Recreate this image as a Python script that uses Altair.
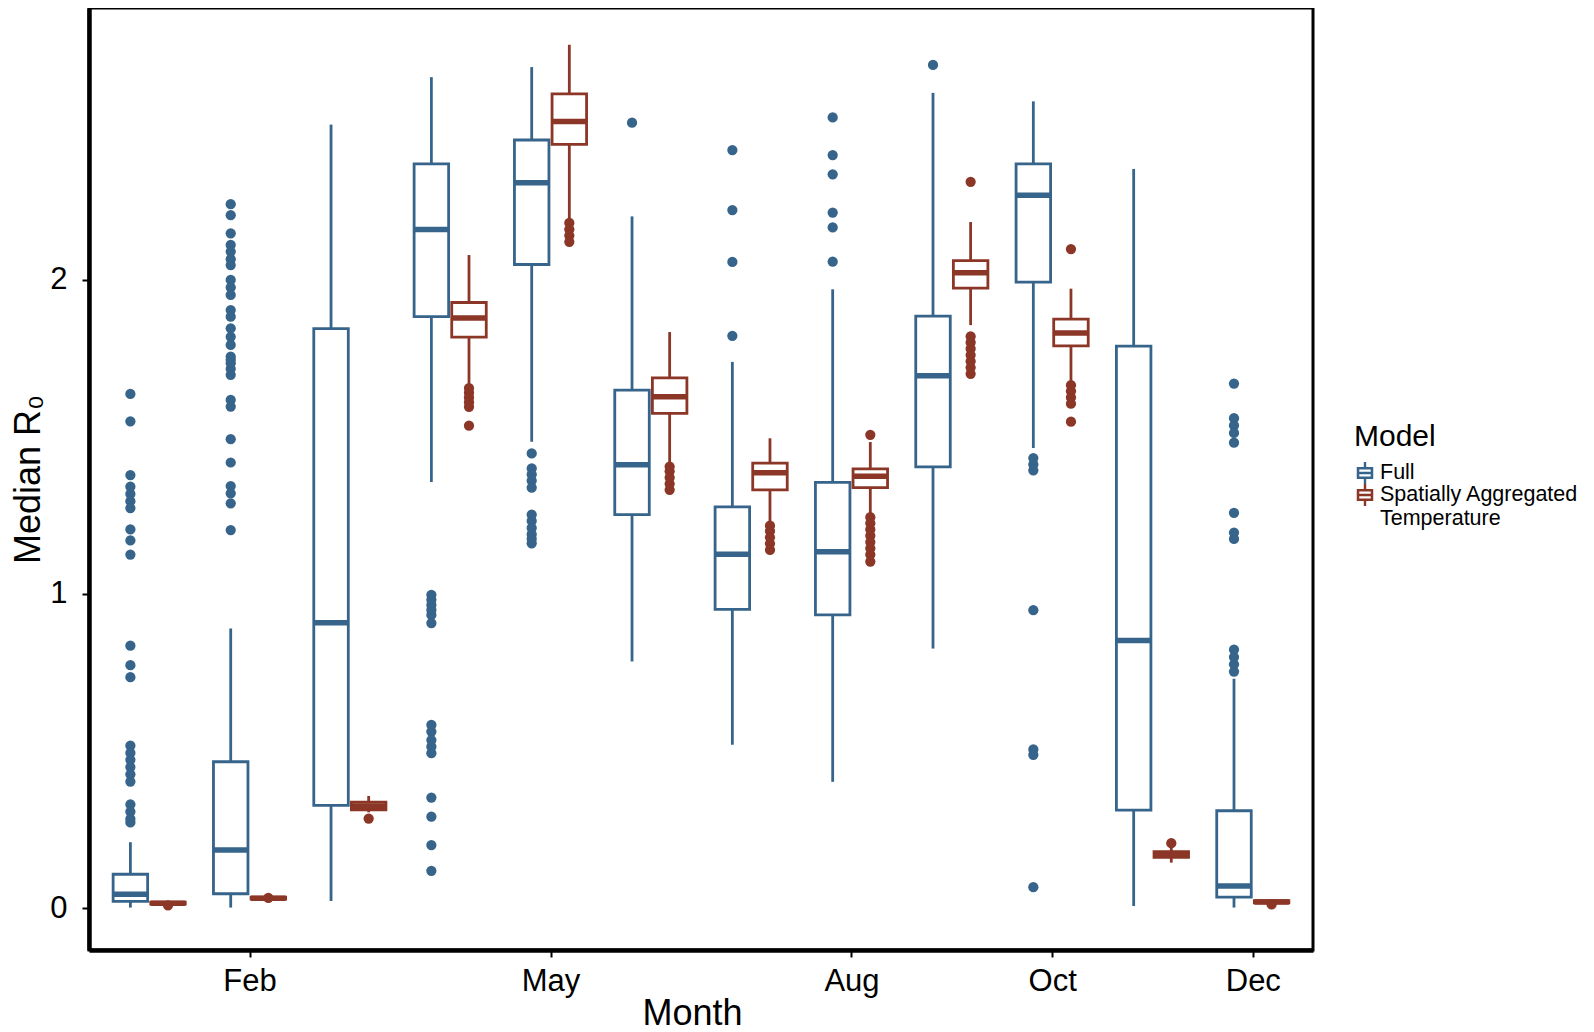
import altair as alt
import pandas as pd

month_names = ["Jan", "Feb", "Mar", "Apr", "May", "Jun",
               "Jul", "Aug", "Sep", "Oct", "Nov", "Dec"]
models = ["Full", "Spatially Aggregated Temperature"]
colors = ["#36648B", "#8B3626"]

# ---- Full model: box statistics per month ----
full_lo  = [0.002, 0.002, 0.023, 1.356, 1.484, 0.785, 0.520, 0.402, 0.826, 1.464, 0.007, 0.002]
full_q1  = [0.022, 0.046, 0.327, 1.882, 2.048, 1.252, 0.951, 0.933, 1.404, 1.992, 0.312, 0.035]
full_med = [0.044, 0.185, 0.908, 2.159, 2.308, 1.411, 1.126, 1.134, 1.694, 2.268, 0.852, 0.071]
full_q3  = [0.108, 0.466, 1.844, 2.368, 2.444, 1.648, 1.277, 1.355, 1.884, 2.368, 1.788, 0.310]
full_hi  = [0.210, 0.890, 2.493, 2.644, 2.676, 2.201, 1.738, 1.969, 2.594, 2.567, 2.352, 0.730]
full_out = [
    [1.636, 1.549, 1.378, 1.341, 1.318, 1.295, 1.273, 1.205, 1.170, 1.125, 0.835, 0.773, 0.735,
     0.517, 0.494, 0.472, 0.449, 0.426, 0.403, 0.330, 0.307, 0.284, 0.273],
    [2.240, 2.205, 2.147, 2.110, 2.089, 2.065, 2.046, 1.999, 1.975, 1.951, 1.903, 1.882, 1.845,
     1.818, 1.792, 1.755, 1.745, 1.734, 1.716, 1.697, 1.617, 1.596, 1.492, 1.418, 1.343, 1.320,
     1.288, 1.203],
    [],
    [0.997, 0.981, 0.965, 0.949, 0.933, 0.907, 0.583, 0.562, 0.535, 0.514, 0.493, 0.352, 0.291,
     0.201, 0.119],
    [1.447, 1.399, 1.380, 1.360, 1.338, 1.252, 1.232, 1.210, 1.190, 1.175, 1.161],
    [2.499],
    [1.821, 2.056, 2.221, 2.412],
    [2.057, 2.166, 2.213, 2.335, 2.396, 2.516],
    [2.683],
    [1.432, 1.412, 1.393, 0.948, 0.505, 0.488, 0.067],
    [],
    [1.669, 1.559, 1.536, 1.512, 1.481, 1.258, 1.195, 1.175, 0.823, 0.799, 0.776, 0.753],
]

# ---- Spatially Aggregated Temperature model ----
sat_lo  = [0.011, 0.026, 0.305, 1.667, 2.192, 1.412, 1.224, 1.251, 1.855, 1.672, 0.145, 0.015]
sat_q1  = [0.013, 0.029, 0.313, 1.817, 2.430, 1.574, 1.331, 1.338, 1.973, 1.789, 0.162, 0.017]
sat_med = [0.016, 0.032, 0.324, 1.878, 2.503, 1.627, 1.385, 1.374, 2.022, 1.830, 0.170, 0.020]
sat_q3  = [0.019, 0.035, 0.337, 1.927, 2.591, 1.687, 1.416, 1.398, 2.060, 1.874, 0.180, 0.024]
sat_hi  = [0.022, 0.038, 0.357, 2.078, 2.747, 1.833, 1.495, 1.483, 2.183, 1.971, 0.195, 0.028]
sat_out = [
    [0.009],
    [0.033],
    [0.285],
    [1.655, 1.640, 1.625, 1.610, 1.595, 1.535],
    [2.180, 2.160, 2.140, 2.120],
    [1.405, 1.390, 1.370, 1.350, 1.331],
    [1.217, 1.200, 1.180, 1.160, 1.140],
    [1.506, 1.244, 1.225, 1.205, 1.185, 1.165, 1.145, 1.125, 1.103],
    [2.311, 1.819, 1.800, 1.780, 1.760, 1.740, 1.720, 1.700],
    [2.097, 1.664, 1.645, 1.625, 1.605, 1.548],
    [0.207],
    [0.012],
]

x_tick_values = [2, 5, 8, 10, 12]
y_tick_values = [0, 1, 2]

stats = {
    models[0]: (full_lo, full_q1, full_med, full_q3, full_hi, full_out),
    models[1]: (sat_lo, sat_q1, sat_med, sat_q3, sat_hi, sat_out),
}

box_rows, out_rows = [], []
for model, (lo, q1, med, q3, hi, outs) in stats.items():
    for i in range(12):
        box_rows.append(dict(month=i + 1, model=model, lo=lo[i], q1=q1[i],
                             med=med[i], q3=q3[i], hi=hi[i]))
        for v in outs[i]:
            out_rows.append(dict(month=i + 1, model=model, value=v))
box_df = pd.DataFrame(box_rows)
out_df = pd.DataFrame(out_rows)

xscale = alt.Scale(domain=[0.4, 12.6], nice=False, zero=False)
yscale = alt.Scale(domain=[-0.133, 2.864], nice=False, zero=False)
cscale = alt.Scale(domain=models, range=colors)

label_js = "['','" + "','".join(month_names) + "'][datum.value]"

xaxis = alt.Axis(values=x_tick_values, labelExpr=label_js, title="Month", grid=False,
                 tickSize=7, tickWidth=2, tickColor="black", labelFontSize=31,
                 labelColor="black", titleFontSize=36, titleFontWeight="normal",
                 titleColor="black", labelPadding=9, titlePadding=0, titleX=603,
                 domainColor="black", domainWidth=4.5)
yaxis = alt.Axis(values=y_tick_values, format="d", title="Median R₀", grid=False,
                 tickSize=7, tickWidth=2, tickColor="black", labelFontSize=31,
                 labelColor="black", titleFontSize=36, titleFontWeight="normal",
                 titleColor="black", labelPadding=15, titlePadding=2,
                 domainColor="black", domainWidth=4.5)

# boxplot glyph built from filled pieces: outer box with two holes (opposite winding),
# plus two whisker bars
symbol_path = (
    "M-0.75,-0.55H0.75V0.55H-0.75Z"
    "M-0.52,-0.32V-0.11H0.52V-0.32Z"
    "M-0.52,0.11V0.32H0.52V0.11Z"
    "M-0.11,-1H0.11V-0.55H-0.11Z"
    "M-0.11,0.55H0.11V1H-0.11Z"
)

legend = alt.Legend(
    title="Model", orient="none", legendX=1265, legendY=414, padding=0,
    symbolType=symbol_path, symbolSize=484, symbolStrokeWidth=0,
    labelFontSize=21.5, titleFontSize=30,
    titleFontWeight="normal", titleColor="black", labelColor="black",
    titlePadding=10, rowPadding=0, labelOffset=4, labelLimit=400,
    labelExpr="datum.label == 'Full' ? 'Full' : ['Spatially Aggregated', 'Temperature']",
)


def positioned(data):
    return (alt.Chart(data)
            .transform_calculate(xc="datum.month + (datum.model == 'Full' ? -0.1875 : 0.1875)")
            .transform_calculate(xl="datum.xc - 0.172")
            .transform_calculate(xr="datum.xc + 0.172"))


line_color = alt.Color("model:N", scale=cscale, legend=None)

boxes = positioned(box_df).mark_rect(filled=False, strokeWidth=2.8).encode(
    x=alt.X("xl:Q", scale=xscale, axis=xaxis),
    x2="xr:Q",
    y=alt.Y("q1:Q", scale=yscale, axis=yaxis),
    y2="q3:Q",
    stroke=alt.Stroke("model:N", scale=cscale, legend=legend),
)

whisk_low = positioned(box_df).mark_rule(strokeWidth=2.8).encode(
    x=alt.X("xc:Q", scale=xscale),
    y=alt.Y("lo:Q", scale=yscale),
    y2="q1:Q",
    color=line_color,
)

whisk_high = positioned(box_df).mark_rule(strokeWidth=2.8).encode(
    x=alt.X("xc:Q", scale=xscale),
    y=alt.Y("q3:Q", scale=yscale),
    y2="hi:Q",
    color=line_color,
)

medians = positioned(box_df).mark_rule(strokeWidth=5.5).encode(
    x=alt.X("xl:Q", scale=xscale),
    x2="xr:Q",
    y=alt.Y("med:Q", scale=yscale),
    color=line_color,
)

outliers = positioned(out_df).mark_circle(size=105, opacity=1).encode(
    x=alt.X("xc:Q", scale=xscale),
    y=alt.Y("value:Q", scale=yscale),
    color=line_color,
)

chart = (alt.layer(boxes, whisk_low, whisk_high, medians, outliers)
         .properties(width=1224, height=942,
                     padding={"left": 2, "top": 0, "right": 0, "bottom": 0},
                     background="white")
         .configure(font="Liberation Sans")
         .configure_view(stroke="black", strokeWidth=3))

chart.save("out.html", embed_options={"renderer": "svg", "actions": False})
